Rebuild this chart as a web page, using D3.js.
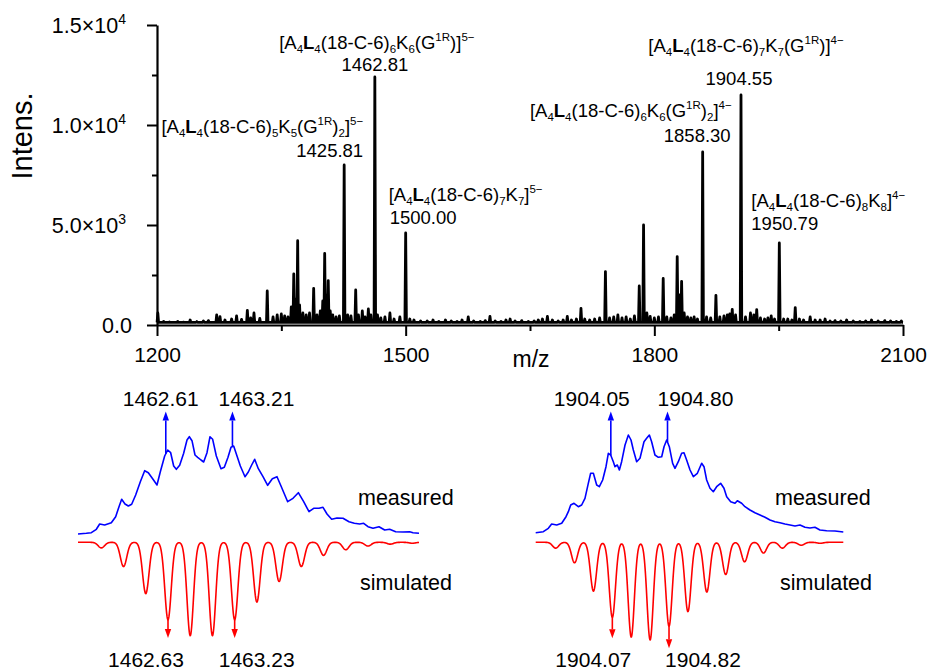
<!DOCTYPE html>
<html>
<head>
<meta charset="utf-8">
<script src="https://cdn.jsdelivr.net/npm/d3@7"></script>
<style>
  body { margin: 0; background: #fff; }
  svg { display: block; }
  text { font-family: "Liberation Sans", Arial, Helvetica, sans-serif; fill: #000; }
</style>
</head>
<body>
<svg id="chart" width="930" height="671"></svg>
<script>
// ---------------- main ESI spectrum ----------------
// labelled ions: m/z, intensity (counts)
const labelledMz  = [1425.81, 1462.81, 1500.00, 1858.30, 1904.55, 1950.79];
const labelledInt = [8000, 12400, 4600, 8650, 11500, 4100];
const labelledFormula = [
  "[A_{4}*L*_{4}(18-C-6)_{5}K_{5}(G^{1R})_{2}]^{5−}",
  "[A_{4}*L*_{4}(18-C-6)_{6}K_{6}(G^{1R})]^{5−}",
  "[A_{4}*L*_{4}(18-C-6)_{7}K_{7}]^{5−}",
  "[A_{4}*L*_{4}(18-C-6)_{6}K_{6}(G^{1R})_{2}]^{4−}",
  "[A_{4}*L*_{4}(18-C-6)_{7}K_{7}(G^{1R})]^{4−}",
  "[A_{4}*L*_{4}(18-C-6)_{8}K_{8}]^{4−}"
];

// other peaks and baseline noise: [m/z, counts]
const otherPeaks = [
  [1201,600],[1208,180],[1215,150],[1225,180],[1232,140],[1240,250],[1248,170],[1256,200],
  [1262,220],[1272,500],[1276,420],[1282,250],[1290,300],[1296,450],[1302,280],[1309,730],
  [1313,350],[1317,600],[1324,330],[1333,1700],[1340,400],[1345,500],[1350,550],[1354,450],
  [1358,400],[1362,900],[1365,2550],[1367,1300],[1369.7,4215],[1372,1000],[1376,600],[1380,500],
  [1384,600],[1389,1830],[1393,500],[1397,700],[1400,1200],[1402.3,3580],[1404.4,1500],[1406.6,2220],
  [1409,700],[1412,500],[1416,400],[1420,450],[1430,500],[1434,450],[1439.7,1750],[1443,500],
  [1447.7,700],[1451,400],[1455,800],[1458,500],[1466,500],[1470,350],[1475,400],[1481,600],
  [1486,300],[1493,400],[1505,300],[1510,250],[1518,200],[1526,200],[1533,250],[1540,180],
  [1548,250],[1555,200],[1562,180],[1568,250],[1575.5,400],[1582,200],[1590,180],[1596,220],
  [1601.7,430],[1608,200],[1615,180],[1621,250],[1626,300],[1632,200],[1640,220],[1648,180],
  [1655,200],[1660,250],[1665,300],[1671,430],[1677,250],[1684,200],[1690,250],[1695,430],
  [1700,250],[1706,300],[1711.5,830],[1716,300],[1722,250],[1728,300],[1734,350],[1741,2670],
  [1746,350],[1751,400],[1756,500],[1761,350],[1766,400],[1771,300],[1776,450],[1781.8,1950],
  [1787,5000],[1791,600],[1795,430],[1800,350],[1805,400],[1810.7,2330],[1815,400],[1820,350],
  [1824,500],[1827.6,3420],[1830.2,1500],[1832.9,2180],[1836,600],[1840,400],[1844,350],[1848,400],
  [1852,300],[1863,400],[1868,350],[1874.3,1480],[1879,400],[1884,450],[1888,500],[1891,550],
  [1894,780],[1898,500],[1910,400],[1916,600],[1920,500],[1923.5,770],[1928,350],[1933,300],
  [1937,350],[1941,450],[1945,300],[1956,300],[1961,300],[1966,250],[1970,870],[1975,300],
  [1980,250],[1988,400],[1994,250],[2000,250],[2006,300],[2012,200],[2018,220],[2025,200],
  [2032,250],[2040,200],[2048,180],[2055,200],[2062,250],[2070,200],[2078,220],[2085,200],
  [2092,180],[2098,200]
];
const baselineCounts = 130;

const xTicksMajor = [1200, 1500, 1800, 2100];
const xTicksMinor = [1350, 1650, 1950];
const yTicksMajor = [0, 5000, 10000, 15000];
const yTicksMinor = [2500, 7500, 12500];
const yTickLabels = ["0.0", "5.0×10^{3}", "1.0×10^{4}", "1.5×10^{4}"];

// ---------------- isotope insets ----------------
// measured envelopes: [m/z, relative intensity %]
const measuredA = [
  [1461.820,0.5],[1461.895,1.2],[1461.940,1.8],[1461.985,5.2],[1462.015,10.5],[1462.060,9.5],
  [1462.120,11.8],[1462.159,17.8],[1462.189,27.8],[1462.213,35.2],[1462.243,30.5],[1462.273,28.5],
  [1462.303,30.2],[1462.339,39.5],[1462.381,52.8],[1462.420,63.8],[1462.453,61.8],[1462.495,55.2],
  [1462.531,49.5],[1462.561,62.8],[1462.600,78.5],[1462.627,84.5],[1462.654,81.8],[1462.681,68.5],
  [1462.705,65.2],[1462.735,69.2],[1462.771,81.2],[1462.801,94.5],[1462.822,97.8],[1462.846,93.8],
  [1462.873,79.5],[1462.897,77.2],[1462.927,74.5],[1462.951,72.5],[1462.981,81.8],[1463.008,97.8],
  [1463.032,95.2],[1463.065,78.5],[1463.107,65.8],[1463.137,67.2],[1463.170,77.2],[1463.197,87.2],
  [1463.221,88.5],[1463.251,78.5],[1463.281,68.5],[1463.323,57.8],[1463.353,62.5],[1463.383,69.5],
  [1463.410,75.2],[1463.443,65.8],[1463.485,57.8],[1463.527,49.2],[1463.569,55.8],[1463.611,57.8],
  [1463.647,48.5],[1463.707,32.8],[1463.755,36.2],[1463.803,41.8],[1463.851,32.8],[1463.899,22.8],
  [1463.941,26.2],[1463.989,26.2],[1464.025,27.2],[1464.061,20.5],[1464.103,15.2],[1464.151,16.5],
  [1464.205,16.2],[1464.259,12.8],[1464.307,11.2],[1464.355,10.5],[1464.391,11.2],[1464.430,7.8],
  [1464.475,6.2],[1464.529,7.8],[1464.580,4.5],[1464.625,5.2],[1464.679,2.8],[1464.745,2.5],
  [1464.805,2.8],[1464.835,1.8],[1464.889,1.2]
];
const measuredB = [
  [1903.056,1.8],[1903.157,2.8],[1903.223,6.2],[1903.267,10.5],[1903.334,9.5],[1903.400,11.2],
  [1903.457,17.8],[1903.488,22.8],[1903.519,29.5],[1903.563,31.2],[1903.620,27.8],[1903.664,29.5],
  [1903.708,36.2],[1903.752,51.2],[1903.783,61.2],[1903.819,61.2],[1903.863,49.5],[1903.898,47.8],
  [1903.942,54.5],[1903.986,67.8],[1904.017,81.2],[1904.048,79.5],[1904.083,72.8],[1904.105,67.8],
  [1904.136,69.5],[1904.163,64.5],[1904.193,72.8],[1904.238,89.5],[1904.282,99.5],[1904.317,94.5],
  [1904.348,84.5],[1904.392,72.8],[1904.436,76.2],[1904.489,92.8],[1904.524,96.2],[1904.560,99.5],
  [1904.590,92.8],[1904.634,79.5],[1904.679,77.2],[1904.723,77.8],[1904.754,87.8],[1904.789,94.5],
  [1904.824,87.8],[1904.868,71.2],[1904.899,66.2],[1904.943,72.8],[1904.987,81.2],[1905.018,81.8],
  [1905.053,74.5],[1905.098,64.5],[1905.142,57.8],[1905.195,61.2],[1905.252,71.2],[1905.283,67.8],
  [1905.318,54.5],[1905.362,46.2],[1905.406,42.8],[1905.450,47.8],[1905.503,51.2],[1905.547,46.2],
  [1905.583,37.8],[1905.636,32.8],[1905.693,31.2],[1905.724,33.8],[1905.781,31.2],[1905.825,27.8],
  [1905.891,24.5],[1905.957,21.8],[1906.024,19.5],[1906.090,17.2],[1906.156,14.5],[1906.222,12.8],
  [1906.288,11.8],[1906.354,10.5],[1906.421,9.5],[1906.487,8.5],[1906.553,9.5],[1906.619,7.2],
  [1906.685,6.5],[1906.751,7.2],[1906.817,4.5],[1906.906,3.8],[1907.016,3.5],[1907.126,2.5]
];
// simulated isotope distributions: [m/z, relative abundance]
const simulatedA = [
  [1462.03,0.06],[1462.23,0.26],[1462.43,0.55],[1462.63,0.83],[1462.83,1.00],[1463.03,1.00],
  [1463.23,0.83],[1463.43,0.64],[1463.63,0.42],[1463.83,0.26],[1464.03,0.14],[1464.23,0.08],
  [1464.43,0.04],[1464.63,0.02],[1464.83,0.01]
];
const simulatedB = [
  [1903.32,0.06],[1903.57,0.21],[1903.82,0.50],[1904.07,0.77],[1904.32,0.97],[1904.57,1.00],
  [1904.82,0.86],[1905.07,0.71],[1905.32,0.51],[1905.57,0.33],[1905.82,0.20],[1906.07,0.11],
  [1906.32,0.06],[1906.57,0.03],[1906.82,0.01]
];
// marked isotope lines: measured (arrow up) and simulated (arrow down)
const measuredMarksA = [1462.61, 1463.21];
const measuredMarksB = [1904.05, 1904.80];
const simulatedMarksA = [1462.63, 1463.23];
const simulatedMarksB = [1904.07, 1904.82];
const simulatedArrowTipA = [1.025, 1.025];
const simulatedArrowTipB = [0.983, 1.085];
const measuredArrowTip = 123;

// ---------------- drawing ----------------
const svg = d3.select("#chart");

// render "_{sub}", "^{sup}" and "*bold*" markup into tspans
function rich(textSel, markup, size, scriptSize) {
  const tokens = markup.match(/(_\{[^}]*\}|\^\{[^}]*\}|\*[^*]*\*|[^_^*]+)/g);
  let shift = 0;
  tokens.forEach(tok => {
    let kind = "n", str = tok;
    if (tok[0] === "_") { kind = "sub"; str = tok.slice(2, -1); }
    else if (tok[0] === "^") { kind = "sup"; str = tok.slice(2, -1); }
    else if (tok[0] === "*") { kind = "b"; str = tok.slice(1, -1); }
    const target = kind === "sub" ? size * 0.24 : kind === "sup" ? -size * 0.42 : 0;
    textSel.append("tspan")
      .attr("dy", target - shift)
      .style("font-size", (kind === "sub" || kind === "sup") ? scriptSize + "px" : size + "px")
      .style("font-weight", kind === "b" ? "bold" : "normal")
      .text(str);
    shift = target;
  });
  return textSel;
}

const x = d3.scaleLinear().domain([1200, 2100]).range([157, 903]);
const y = d3.scaleLinear().domain([0, 15000]).range([325, 25]);

// spectrum trace: each peak drawn as a narrow spike on the baseline
const allPeaks = otherPeaks.concat(labelledMz.map((m, i) => [m, labelledInt[i]]))
  .sort((a, b) => a[0] - b[0]);
const halfWidth = 0.9;
const trace = [[1200, baselineCounts]];
allPeaks.forEach(([m, c]) => {
  trace.push([m - halfWidth, baselineCounts], [m, c], [m + halfWidth, baselineCounts]);
});
trace.push([2100, baselineCounts]);

svg.append("path")
  .attr("d", d3.line().x(d => x(d[0])).y(d => y(d[1]))(trace))
  .attr("fill", "none").attr("stroke", "#000")
  .attr("stroke-width", 2.8).attr("stroke-linejoin", "round");

// axes
const gx = svg.append("g").attr("transform", `translate(0,${y(0)})`);
gx.call(d3.axisBottom(x).tickValues(xTicksMajor).tickSize(11).tickSizeOuter(0).tickFormat(d3.format("d")));
const gxm = svg.append("g").attr("transform", `translate(0,${y(0)})`);
gxm.call(d3.axisBottom(x).tickValues(xTicksMinor).tickSize(6).tickSizeOuter(0).tickFormat(""));
gxm.select(".domain").remove();

const gy = svg.append("g").attr("transform", `translate(${x(1200)},0)`);
gy.call(d3.axisLeft(y).tickValues(yTicksMajor).tickSize(10).tickSizeOuter(0).tickFormat(""));
const gym = svg.append("g").attr("transform", `translate(${x(1200)},0)`);
gym.call(d3.axisLeft(y).tickValues(yTicksMinor).tickSize(5).tickSizeOuter(0).tickFormat(""));
gym.select(".domain").remove();

svg.selectAll(".domain").attr("stroke", "#000").attr("stroke-width", 2.2);
svg.selectAll(".tick line").attr("stroke", "#000").attr("stroke-width", 2);
gx.selectAll(".tick text")
  .attr("y", 37).attr("dy", 0)
  .attr("fill", "#000")
  .style("font-size", "21px")
  .style("font-family", '"Liberation Sans", Arial, sans-serif');

// y tick labels with exponent
yTicksMajor.forEach((v, i) => {
  const hasExp = yTickLabels[i].includes("^");
  const t = svg.append("text")
    .attr("x", hasExp ? 126 : 132).attr("y", y(v) + 8)
    .attr("text-anchor", "end");
  rich(t, yTickLabels[i], 21.5, 14);
});

svg.append("text")
  .attr("transform", `translate(32,${136}) rotate(-90)`)
  .attr("text-anchor", "middle")
  .style("font-size", "29px")
  .text("Intens.");

svg.append("text")
  .attr("x", 531).attr("y", 367)
  .attr("text-anchor", "middle")
  .style("font-size", "23px")
  .text("m/z");

// peak annotations: offsets relative to each peak's apex
const annLayout = [
  { anchor: "end",    dxF: 19,  dyF: 32, dxN: 19,  dyN: 8 },
  { anchor: "middle", dxF: 2,   dyF: 28, dxN: 0,   dyN: 6 },
  { anchor: "start",  dxF: -17, dyF: 32, dxN: -16, dyN: 9 },
  { anchor: "end",    dxF: 29,  dyF: 35, dxN: 28,  dyN: 10 },
  { anchor: "middle", dxF: 5,   dyF: 43, dxN: -2,  dyN: 10 },
  { anchor: "start",  dxF: -28, dyF: 36, dxN: -28, dyN: 13 }
];
labelledMz.forEach((m, i) => {
  const L = annLayout[i];
  const px = x(m), py = y(labelledInt[i]);
  rich(svg.append("text").attr("x", px + L.dxF).attr("y", py - L.dyF).attr("text-anchor", L.anchor),
       labelledFormula[i], 18.5, 11.5);
  svg.append("text")
    .attr("x", px + L.dxN).attr("y", py - L.dyN)
    .attr("text-anchor", L.anchor)
    .style("font-size", "18.5px")
    .text(m.toFixed(2));
});

// ---------------- inset panels ----------------
function interp(arr, m) {
  for (let i = 0; i < arr.length - 1; i++) {
    if (arr[i][0] <= m && m <= arr[i + 1][0]) {
      const t = (m - arr[i][0]) / (arr[i + 1][0] - arr[i][0]);
      return arr[i][1] + t * (arr[i + 1][1] - arr[i][1]);
    }
  }
  return 0;
}

function arrow(g, px, y0, y1, color) {
  const dir = y1 < y0 ? 1 : -1; // 1 = pointing up
  const head = 9, hw = 3.2;
  g.append("line").attr("x1", px).attr("x2", px)
    .attr("y1", y0).attr("y2", y1 + dir * head)
    .attr("stroke", color).attr("stroke-width", 1.6);
  g.append("path")
    .attr("d", `M${px},${y1}L${px - hw},${y1 + dir * head}L${px + hw},${y1 + dir * head}Z`)
    .attr("fill", color);
}

function inset(cfg) {
  const g = svg.append("g");
  const xs = d3.scaleLinear().domain(cfg.domain).range(cfg.range);
  const ym = d3.scaleLinear().domain([0, 100]).range([534.5, 434.5]);
  const ysim = d3.scaleLinear().domain([0, 1]).range([542.3, cfg.simBottom]);

  // measured envelope
  g.append("path")
    .attr("d", d3.line().x(d => xs(d[0])).y(d => ym(d[1]))(cfg.measured))
    .attr("fill", "none").attr("stroke", "#0000ff").attr("stroke-width", 1.6)
    .attr("stroke-linejoin", "round");

  // simulated profile: Gaussian line shape around each isotope line
  const profile = m => d3.sum(cfg.simulated, ([c, a]) =>
    a * Math.exp(-((m - c) * (m - c)) / (2 * cfg.sigma * cfg.sigma)));
  const n = 900;
  const grid = d3.range(n + 1).map(k => cfg.domain[0] + (cfg.domain[1] - cfg.domain[0]) * k / n);
  g.append("path")
    .attr("d", d3.line().x(m => xs(m)).y(m => ysim(profile(m)))(grid))
    .attr("fill", "none").attr("stroke", "#ff0000").attr("stroke-width", 1.6)
    .attr("stroke-linejoin", "round");

  // marked lines
  cfg.measMarks.forEach((m, i) => {
    arrow(g, xs(m), ym(interp(cfg.measured, m)), ym(measuredArrowTip), "#0000ff");
    g.append("text").attr("x", xs(m) + cfg.measLabelDx[i]).attr("y", 406)
      .attr("text-anchor", "middle").style("font-size", "21px").text(m.toFixed(2));
  });
  cfg.simMarks.forEach((m, i) => {
    arrow(g, xs(m), ysim(profile(m)), ysim(cfg.simTips[i]), "#ff0000");
    g.append("text").attr("x", xs(m) + cfg.simLabelDx[i]).attr("y", 667)
      .attr("text-anchor", "middle").style("font-size", "21px").text(m.toFixed(2));
  });

  g.append("text").attr("x", cfg.measuredTextX).attr("y", 505)
    .style("font-size", "21.5px").text("measured");
  g.append("text").attr("x", cfg.simulatedTextX).attr("y", 590)
    .style("font-size", "21.5px").text("simulated");
}

inset({
  domain: [1461.82, 1464.889], range: [78, 419], simBottom: 635.7, sigma: 0.029,
  measured: measuredA, simulated: simulatedA,
  measMarks: measuredMarksA, simMarks: simulatedMarksA, simTips: simulatedArrowTipA,
  measLabelDx: [-5, 24], simLabelDx: [-22, 22],
  measuredTextX: 358, simulatedTextX: 360
});
inset({
  domain: [1903.056, 1907.126], range: [535.7, 843.3], simBottom: 640, sigma: 0.041,
  measured: measuredB, simulated: simulatedB,
  measMarks: measuredMarksB, simMarks: simulatedMarksB, simTips: simulatedArrowTipB,
  measLabelDx: [-19, 28], simLabelDx: [-19, 34],
  measuredTextX: 775, simulatedTextX: 780
});
</script>
</body>
</html>
